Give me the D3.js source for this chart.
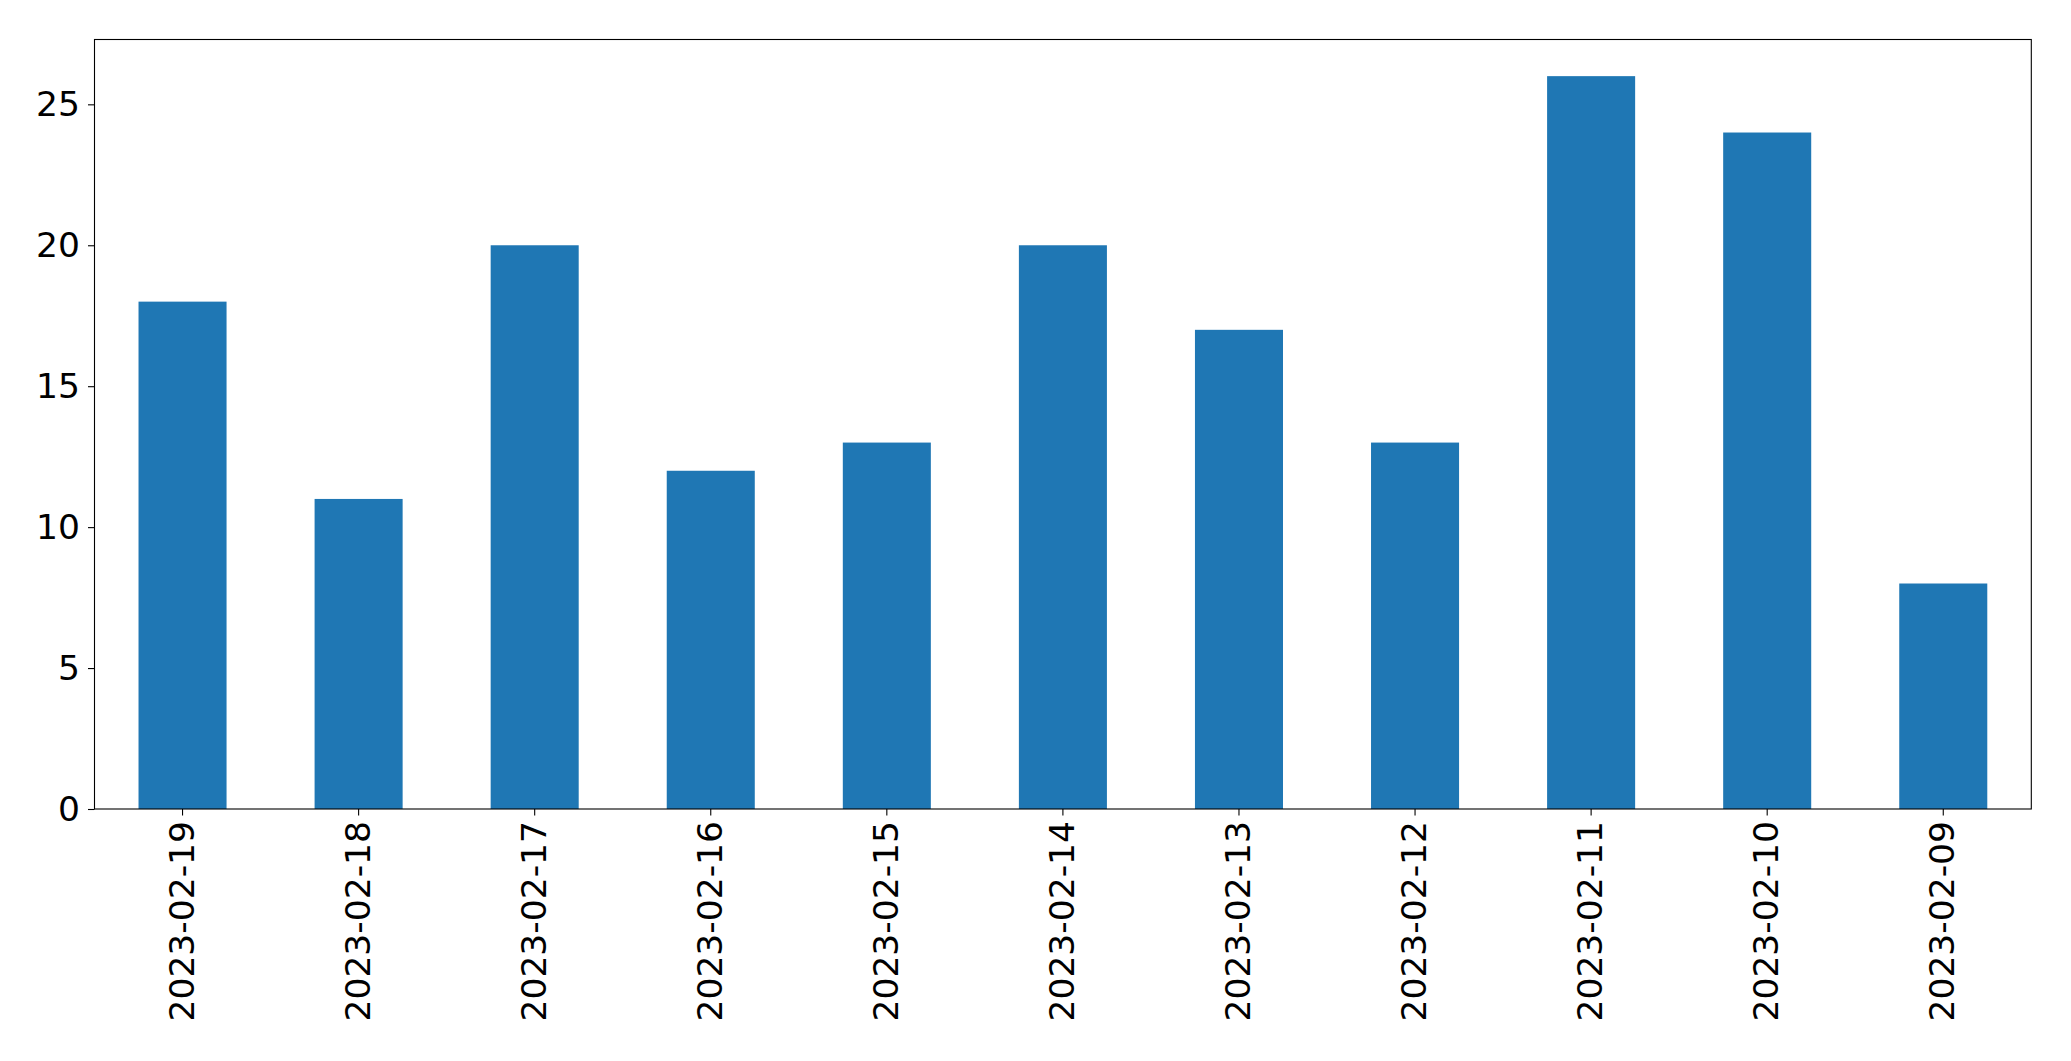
<!DOCTYPE html>
<html>
<head>
<meta charset="utf-8">
<script src="https://cdn.jsdelivr.net/npm/d3@7"></script>
<style>
  html, body { margin: 0; padding: 0; background: #fff; }
  svg { display: block; }
</style>
</head>
<body>
<svg id="chart" width="2071" height="1061"></svg>
<script>
const categories = ["2023-02-19","2023-02-18","2023-02-17","2023-02-16","2023-02-15","2023-02-14","2023-02-13","2023-02-12","2023-02-11","2023-02-10","2023-02-09"];
const values = [18, 11, 20, 12, 13, 20, 17, 13, 26, 24, 8];
const yTicks = [0, 5, 10, 15, 20, 25];

const W = 2071, H = 1061;
const margin = { left: 94.5, top: 39.5, right: W - 2031.3, bottom: H - 809 };
const iw = W - margin.left - margin.right;
const ih = H - margin.top - margin.bottom;
const fontSize = 34.5;
const font = "'DejaVu Sans', sans-serif";

const svg = d3.select("#chart");
const g = svg.append("g").attr("transform", `translate(${margin.left},${margin.top})`);

const x = d3.scaleBand().domain(categories).range([0, iw]).paddingInner(0.5).paddingOuter(0.25);
const yMax = d3.max(values) * 1.05;
const y = d3.scaleLinear().domain([0, yMax]).range([ih, 0]);

g.selectAll("rect.bar").data(values).enter().append("rect")
  .attr("class", "bar")
  .attr("x", (d, i) => x(categories[i]))
  .attr("width", x.bandwidth())
  .attr("y", d => y(d))
  .attr("height", d => y(0) - y(d))
  .attr("fill", "#1f77b4");

// Y axis
const yAxis = g.append("g").call(d3.axisLeft(y).tickValues(yTicks).tickSize(6.5).tickPadding(8).tickFormat(d3.format("d")));
yAxis.select(".domain").remove();
yAxis.selectAll(".tick line").attr("stroke", "#000").attr("stroke-width", 1.1);
yAxis.selectAll(".tick text").attr("font-family", font).attr("font-size", fontSize).attr("fill", "#000");

// X axis
const xAxis = g.append("g").attr("transform", `translate(0,${ih})`).call(d3.axisBottom(x).tickSize(6.5).tickFormat(d => d));
xAxis.select(".domain").remove();
xAxis.selectAll(".tick line").attr("stroke", "#000").attr("stroke-width", 1.1);
xAxis.selectAll(".tick text")
  .attr("font-family", font).attr("font-size", fontSize).attr("fill", "#000")
  .attr("text-anchor", "end")
  .attr("dy", null)
  .attr("dominant-baseline", "central")
  .attr("transform", "translate(-1,12) rotate(-90)")
  .attr("x", 0).attr("y", 0);

// frame
g.append("rect").attr("x", 0).attr("y", 0).attr("width", iw).attr("height", ih)
  .attr("fill", "none").attr("stroke", "#000").attr("stroke-width", 1.1);
</script>
</body>
</html>
